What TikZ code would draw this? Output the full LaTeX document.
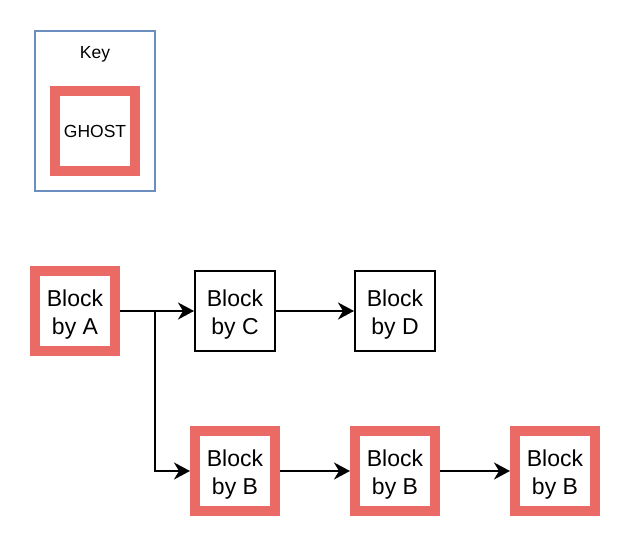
\documentclass[tikz,border=0pt]{standalone}
\usepackage{fontspec}
\setmainfont{Liberation Sans}
\usetikzlibrary{arrows.meta}
\definecolor{ghostred}{HTML}{EA6B66}
\definecolor{keyblue}{HTML}{6C8EBF}
\newcommand{\blocktext}[2]{\raisebox{-3.5pt}[\height][\depth]{\begin{tabular}{@{}c@{}}#1\\#2\end{tabular}}}
\begin{document}
\begin{tikzpicture}[x=1pt,y=-1pt,
  blockbox/.style={draw=black,line width=2pt,minimum width=80pt,minimum height=80pt,inner sep=0pt,font=\fontsize{23}{28}\selectfont},
  ghostbox/.style={blockbox,draw=ghostred,line width=10pt},
  conn/.style={draw=black,line width=2pt,-{Stealth[length=16pt,width=17pt,inset=5pt]}},
  smalltext/.style={inner sep=0pt,font=\fontsize{17.5}{21}\selectfont}]
\useasboundingbox (0,0) rectangle (630,546);
% key
\node[draw=keyblue,line width=1.5pt,minimum width=120pt,minimum height=160pt,inner sep=0pt] (keybox) at (95,111) {};
\node[smalltext] (keylabel) at (95,54.5) {Key};
\node[draw=ghostred,line width=10pt,minimum width=80pt,minimum height=80pt,inner sep=0pt,smalltext] (ghost) at (95,131) {GHOST};
% blocks
\node[ghostbox] (A) at (75,311) {\blocktext{Block}{by A}};
\node[blockbox] (C) at (235,311) {\blocktext{Block}{by C}};
\node[blockbox] (D) at (395,311) {\blocktext{Block}{by D}};
\node[ghostbox] (B1) at (235,471) {\blocktext{Block}{by B}};
\node[ghostbox] (B2) at (395,471) {\blocktext{Block}{by B}};
\node[ghostbox] (B3) at (555,471) {\blocktext{Block}{by B}};
\coordinate (fork) at (155,311);
% connectors
\draw[conn] (A.east) -- (C.west);
\draw[conn] (A.east) -- (fork) |- (B1.west);
\draw[conn] (C.east) -- (D.west);
\draw[conn] (B1.east) -- (B2.west);
\draw[conn] (B2.east) -- (B3.west);
\end{tikzpicture}
\end{document}
